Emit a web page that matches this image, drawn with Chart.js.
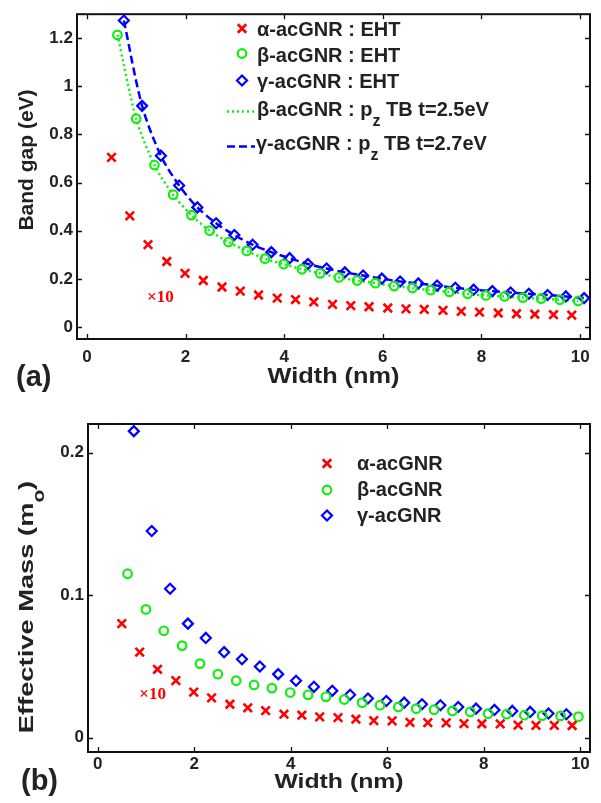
<!DOCTYPE html>
<html>
<head>
<meta charset="utf-8">
<script src="https://cdn.jsdelivr.net/npm/chart.js@4.4.0/dist/chart.umd.min.js"></script>
<style>
  html, body { margin: 0; padding: 0; background: #fff; }
  #wrap { position: relative; width: 601px; height: 803px; overflow: hidden; }
  .panel { position: absolute; left: 0; width: 601px; }
  #pa { top: 0; height: 400px; }
  #pb { top: 400px; height: 403px; }
</style>
</head>
<body>
<div id="wrap">
  <div class="panel" id="pa"><canvas id="gapChart"></canvas></div>
  <div class="panel" id="pb"><canvas id="massChart"></canvas></div>
</div>
<script>
// Ribbon widths (nm) of the three armchair families
const widthAlpha = [0.50, 0.87, 1.24, 1.62, 1.99, 2.36, 2.74, 3.11, 3.48, 3.86, 4.23, 4.60, 4.98, 5.35, 5.72, 6.10, 6.47, 6.84, 7.22, 7.59, 7.96, 8.34, 8.71, 9.08, 9.46, 9.83];
const widthBeta  = [0.62, 1.00, 1.37, 1.75, 2.12, 2.49, 2.87, 3.24, 3.61, 3.99, 4.36, 4.73, 5.11, 5.48, 5.85, 6.23, 6.60, 6.97, 7.35, 7.72, 8.09, 8.47, 8.84, 9.21, 9.59, 9.96];
const widthGamma = [0.75, 1.12, 1.50, 1.87, 2.24, 2.62, 2.99, 3.36, 3.74, 4.11, 4.48, 4.86, 5.23, 5.60, 5.98, 6.35, 6.72, 7.10, 7.47, 7.84, 8.22, 8.59, 8.96, 9.34, 9.71, 10.08];

// (a) band gap, eV (alpha values shown x10)
const gapAlphaEHT = [0.705, 0.462, 0.342, 0.272, 0.223, 0.193, 0.166, 0.149, 0.133, 0.120, 0.114, 0.104, 0.094, 0.089, 0.084, 0.079, 0.075, 0.073, 0.069, 0.065, 0.062, 0.058, 0.055, 0.053, 0.051, 0.049];
const gapBetaEHT  = [1.214, 0.866, 0.673, 0.550, 0.465, 0.400, 0.353, 0.316, 0.284, 0.261, 0.240, 0.223, 0.206, 0.193, 0.182, 0.170, 0.162, 0.153, 0.146, 0.138, 0.131, 0.127, 0.122, 0.118, 0.113, 0.108];
const gapGammaEHT = [1.274, 0.919, 0.712, 0.588, 0.497, 0.431, 0.382, 0.342, 0.311, 0.286, 0.262, 0.243, 0.227, 0.214, 0.201, 0.189, 0.181, 0.172, 0.163, 0.155, 0.149, 0.143, 0.138, 0.133, 0.127, 0.120];
const gapBetaTB   = [1.214, 0.866, 0.673, 0.550, 0.465, 0.400, 0.353, 0.316, 0.284, 0.261, 0.240, 0.223, 0.206, 0.193, 0.182, 0.170, 0.162, 0.153, 0.146, 0.138, 0.131, 0.127, 0.122, 0.118, 0.113, 0.108];
const gapGammaTB  = [1.274, 0.919, 0.712, 0.588, 0.497, 0.431, 0.382, 0.342, 0.311, 0.286, 0.262, 0.243, 0.227, 0.214, 0.201, 0.189, 0.181, 0.172, 0.163, 0.155, 0.149, 0.143, 0.138, 0.133, 0.127, 0.120];

// (b) effective mass, m_o (alpha values shown x10)
const massAlpha = [0.080, 0.060, 0.048, 0.040, 0.032, 0.028, 0.0235, 0.021, 0.019, 0.0165, 0.0158, 0.0146, 0.0141, 0.0130, 0.0120, 0.0118, 0.0108, 0.0106, 0.0104, 0.0099, 0.0098, 0.0097, 0.0088, 0.0087, 0.0087, 0.0086];
const massBeta  = [0.115, 0.090, 0.075, 0.0646, 0.052, 0.0446, 0.040, 0.037, 0.0348, 0.0317, 0.0301, 0.0287, 0.0268, 0.0246, 0.0228, 0.0216, 0.0204, 0.0197, 0.0188, 0.0181, 0.0169, 0.0165, 0.0158, 0.0155, 0.0153, 0.0148];
const massGamma = [0.215, 0.145, 0.1045, 0.080, 0.070, 0.060, 0.055, 0.050, 0.0446, 0.040, 0.0357, 0.0329, 0.0301, 0.0275, 0.0258, 0.0246, 0.0235, 0.0228, 0.0216, 0.0204, 0.0195, 0.0188, 0.0181, 0.0170, 0.0165];

// Tick values
const widthTicks = [0, 2, 4, 6, 8, 10];
const gapTicks = [0, 0.2, 0.4, 0.6, 0.8, 1, 1.2];
const massTicks = [0, 0.1, 0.2];

const RED = '#ff0000', GREEN = '#10ee10', BLUE = '#0000ff', INK = '#222';
const SANS = "'Liberation Sans', Arial, Helvetica, sans-serif";

function pairs(xs, ys) {
  return ys.map((y, i) => ({ x: xs[i], y }));
}

const markerStyles = {
  alpha: { pointStyle: 'crossRot', radius: 6, borderWidth: 2.6, borderColor: RED, backgroundColor: RED },
  beta:  { pointStyle: 'circle',   radius: 4.3, borderWidth: 2.2, borderColor: GREEN, backgroundColor: 'rgba(0,0,0,0)' },
  gamma: { pointStyle: 'rectRot',  radius: 5,   borderWidth: 2.2, borderColor: BLUE, backgroundColor: 'rgba(0,0,0,0)' }
};

function markerSet(label, data, key) {
  const m = markerStyles[key];
  return {
    label, data, showLine: false, clip: false,
    pointStyle: m.pointStyle, pointRadius: m.radius, pointBorderWidth: m.borderWidth,
    pointBorderColor: m.borderColor, pointBackgroundColor: m.backgroundColor,
    borderColor: m.borderColor, backgroundColor: m.backgroundColor
  };
}

function lineSet(label, data, color, dash) {
  return {
    label, data, showLine: true, clip: false, pointRadius: 0,
    borderColor: color, borderWidth: 2.5, borderDash: dash, fill: false, tension: 0.3, order: 5
  };
}

function axes(xMin, xMax, yMin, yMax, xTickVals, yTickVals, yAxisWidth, xAxisHeight, xPad) {
  const common = {
    type: 'linear',
    grid: { display: false, drawTicks: false },
    border: { display: false }
  };
  return {
    x: Object.assign({}, common, {
      min: xMin, max: xMax,
      ticks: { font: { family: SANS, size: 17, weight: 'bold' }, color: INK, padding: xPad, maxRotation: 0, autoSkip: false, callback: v => String(v) },
      afterBuildTicks: s => { s.ticks = xTickVals.map(v => ({ value: v })); },
      afterFit: s => { s.height = xAxisHeight; }
    }),
    y: Object.assign({}, common, {
      min: yMin, max: yMax,
      ticks: { font: { family: SANS, size: 17, weight: 'bold' }, color: INK, padding: 4, autoSkip: false, callback: v => String(v) },
      afterBuildTicks: s => { s.ticks = yTickVals.map(v => ({ value: v })); },
      afterFit: s => { s.width = yAxisWidth; }
    })
  };
}

// Box around the plot area with inward tick marks on all four sides
const framePlugin = {
  id: 'frame',
  beforeDatasetsDraw(chart) {
    const { ctx, chartArea: a, scales: { x, y } } = chart;
    const L = 5;
    ctx.save();
    ctx.strokeStyle = '#111';
    ctx.lineWidth = 1.3;
    ctx.beginPath();
    x.ticks.forEach(t => {
      const px = Math.round(x.getPixelForValue(t.value)) + 0.5;
      ctx.moveTo(px, a.bottom); ctx.lineTo(px, a.bottom - L);
      ctx.moveTo(px, a.top); ctx.lineTo(px, a.top + L);
    });
    y.ticks.forEach(t => {
      const py = Math.round(y.getPixelForValue(t.value)) + 0.5;
      ctx.moveTo(a.left, py); ctx.lineTo(a.left + L, py);
      ctx.moveTo(a.right, py); ctx.lineTo(a.right - L, py);
    });
    ctx.stroke();
    ctx.lineWidth = 2;
    ctx.strokeRect(a.left, a.top, a.right - a.left, a.bottom - a.top);
    ctx.restore();
  }
};

// Text runs with optional subscripts; sx stretches the run along its direction
function richText(ctx, runs, x, y, size, sx) {
  ctx.save();
  ctx.translate(x, y);
  ctx.scale(sx || 1, 1);
  let cx = 0;
  runs.forEach(r => {
    const fs = r.sub ? Math.round(size * 0.78) : size;
    ctx.font = 'bold ' + fs + 'px ' + SANS;
    ctx.fillText(r.t, cx, r.sub ? size * 0.52 : 0);
    cx += ctx.measureText(r.t).width;
  });
  ctx.restore();
}

function drawMarker(ctx, key, x, y) {
  const m = markerStyles[key];
  ctx.save();
  ctx.strokeStyle = m.borderColor;
  ctx.fillStyle = m.backgroundColor;
  ctx.lineWidth = m.borderWidth;
  Chart.helpers.drawPoint(ctx, { pointStyle: m.pointStyle, radius: m.radius, borderWidth: m.borderWidth, rotation: 0 }, x, y);
  ctx.restore();
}

function drawLegendLine(ctx, color, dash, x0, x1, y) {
  ctx.save();
  ctx.strokeStyle = color; ctx.lineWidth = 2.5; ctx.setLineDash(dash);
  ctx.beginPath(); ctx.moveTo(x0, y); ctx.lineTo(x1, y); ctx.stroke();
  ctx.restore();
}

// Titles, panel tag, legend and the x10 note
const annotatePlugin = {
  id: 'annotate',
  afterDraw(chart, args, o) {
    const { ctx, chartArea: a, scales: { x, y } } = chart;
    ctx.save();
    ctx.fillStyle = INK;
    ctx.textBaseline = 'alphabetic';

    // x title
    ctx.font = 'bold ' + o.xTitleSize + 'px ' + SANS;
    const xw = ctx.measureText(o.xTitle).width * o.xTitleSx;
    richText(ctx, [{ t: o.xTitle }], (a.left + a.right) / 2 - xw / 2, a.bottom + o.xTitleDy, o.xTitleSize, o.xTitleSx);

    // y title (rotated)
    ctx.save();
    ctx.translate(o.yTitleX, o.yTitleCy);
    ctx.rotate(-Math.PI / 2);
    let w = 0;
    o.yTitle.forEach(r => {
      ctx.font = 'bold ' + (r.sub ? Math.round(o.yTitleSize * 0.78) : o.yTitleSize) + 'px ' + SANS;
      w += ctx.measureText(r.t).width;
    });
    w *= o.yTitleSx;
    richText(ctx, o.yTitle, -w / 2, 0, o.yTitleSize, o.yTitleSx);
    ctx.restore();

    // panel tag
    ctx.font = 'bold 29px ' + SANS;
    ctx.fillText(o.tag, o.tagX, o.tagY);

    // x10 note, anchored in data coordinates
    ctx.fillStyle = RED;
    ctx.font = 'bold 17px "Liberation Serif", "Times New Roman", serif';
    ctx.textAlign = 'center';
    ctx.textBaseline = 'middle';
    ctx.fillText('\u00d710', x.getPixelForValue(o.noteAt[0]), y.getPixelForValue(o.noteAt[1]));
    ctx.textAlign = 'left';
    ctx.textBaseline = 'alphabetic';

    // legend
    ctx.fillStyle = INK;
    o.legend.forEach(item => {
      if (item.marker) drawMarker(ctx, item.marker, item.mx, item.my);
      if (item.line) drawLegendLine(ctx, item.line.color, item.line.dash, item.line.x0, item.line.x1, item.my);
      ctx.fillStyle = INK;
      richText(ctx, item.text, item.tx, item.ty, o.legendSize, 1);
    });
    ctx.restore();
  }
};

Chart.defaults.font.family = SANS;
Chart.defaults.animation = false;

new Chart(document.getElementById('gapChart'), {
  type: 'scatter',
  data: {
    datasets: [
      markerSet('\u03b1-acGNR : EHT', pairs(widthAlpha, gapAlphaEHT), 'alpha'),
      markerSet('\u03b2-acGNR : EHT', pairs(widthBeta, gapBetaEHT), 'beta'),
      markerSet('\u03b3-acGNR : EHT', pairs(widthGamma, gapGammaEHT), 'gamma'),
      lineSet('\u03b2-acGNR : pz TB t=2.5eV', pairs(widthBeta, gapBetaTB), GREEN, [2, 3]),
      lineSet('\u03b3-acGNR : pz TB t=2.7eV', pairs(widthGamma, gapGammaTB), BLUE, [8, 4])
    ]
  },
  options: {
    responsive: true, maintainAspectRatio: false,
    layout: { padding: { left: 0, right: 11, top: 5, bottom: 0 } },
    scales: axes(-0.2, 10.2, -0.05, 1.3, widthTicks, gapTicks, 77, 61, 8),
    plugins: {
      legend: { display: false }, tooltip: { enabled: false },
      annotate: {
        xTitle: 'Width (nm)', xTitleDy: 44, xTitleSize: 22, xTitleSx: 1.15,
        yTitle: [{ t: 'Band gap (eV)' }], yTitleSize: 21, yTitleSx: 1, yTitleX: 33, yTitleCy: 160,
        tag: '(a)', tagX: 16, tagY: 386,
        noteAt: [1.49, 0.124],
        legendSize: 20,
        legend: [
          { marker: 'alpha', mx: 242, my: 28.5, tx: 257, ty: 36, text: [{ t: '\u03b1-acGNR : EHT' }] },
          { marker: 'beta',  mx: 242, my: 53.5, tx: 257, ty: 61.5, text: [{ t: '\u03b2-acGNR : EHT' }] },
          { marker: 'gamma', mx: 242, my: 80.5, tx: 257, ty: 88, text: [{ t: '\u03b3-acGNR : EHT' }] },
          { line: { color: GREEN, dash: [2, 3], x0: 227, x1: 255 }, my: 111.5, tx: 257, ty: 116,
            text: [{ t: '\u03b2-acGNR : p' }, { t: 'z', sub: true }, { t: ' TB t=2.5eV' }] },
          { line: { color: BLUE, dash: [8, 4], x0: 227, x1: 255 }, my: 146.5, tx: 256, ty: 150,
            text: [{ t: '\u03b3-acGNR : p' }, { t: 'z', sub: true }, { t: ' TB t=2.7eV' }] }
        ]
      }
    }
  },
  plugins: [framePlugin, annotatePlugin]
});

new Chart(document.getElementById('massChart'), {
  type: 'scatter',
  data: {
    datasets: [
      markerSet('\u03b1-acGNR', pairs(widthAlpha, massAlpha), 'alpha'),
      markerSet('\u03b2-acGNR', pairs(widthBeta, massBeta), 'beta'),
      markerSet('\u03b3-acGNR', pairs(widthGamma, massGamma), 'gamma')
    ]
  },
  options: {
    responsive: true, maintainAspectRatio: false,
    layout: { padding: { left: 0, right: 11, top: 24, bottom: 0 } },
    scales: axes(-0.2, 10.2, -0.01, 0.22, widthTicks, massTicks, 88, 51, 2),
    plugins: {
      legend: { display: false }, tooltip: { enabled: false },
      annotate: {
        xTitle: 'Width (nm)', xTitleDy: 36, xTitleSize: 21, xTitleSx: 1.18,
        yTitle: [{ t: 'Effective Mass (m' }, { t: 'o', sub: true }, { t: ')' }], yTitleSize: 21, yTitleSx: 1.3, yTitleX: 33, yTitleCy: 207,
        tag: '(b)', tagX: 21, tagY: 390,
        noteAt: [1.14, 0.030],
        legendSize: 20,
        legend: [
          { marker: 'alpha', mx: 327, my: 63.5, tx: 357, ty: 70, text: [{ t: '\u03b1-acGNR' }] },
          { marker: 'beta',  mx: 327, my: 90, tx: 357, ty: 96, text: [{ t: '\u03b2-acGNR' }] },
          { marker: 'gamma', mx: 327, my: 115.5, tx: 357, ty: 121.5, text: [{ t: '\u03b3-acGNR' }] }
        ]
      }
    }
  },
  plugins: [framePlugin, annotatePlugin]
});
</script>
</body>
</html>
